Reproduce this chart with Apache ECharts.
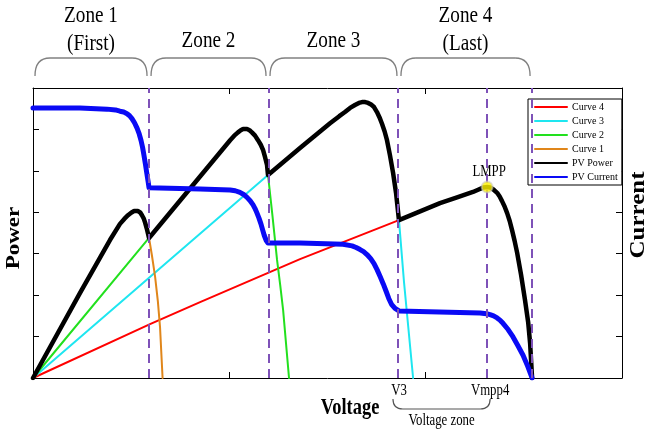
<!DOCTYPE html>
<html><head><meta charset="utf-8">
<script src="https://cdn.jsdelivr.net/npm/echarts@6/dist/echarts.min.js"></script>
<style>html,body{margin:0;padding:0;background:#fff}#c{width:646px;height:430px}</style>
</head><body><div id="c"></div>
<script>
// ---- data (x: voltage, y: power / current) ----
const curve1 = [[0,0],[0.239,2.05],[0.392,3.33],[0.443,3.72],[0.465,3.84],[0.484,3.93],[0.500,3.99],[0.515,4.03],[0.535,4.03],[0.547,3.99],[0.555,3.93],[0.564,3.85],[0.571,3.75],[0.581,3.58],[0.591,3.38],[0.606,2.95],[0.622,2.44],[0.636,1.85],[0.647,1.23],[0.660,0]];
const curve2 = [[0,0],[0.591,3.38],[1.004,5.74],[1.025,5.85],[1.044,5.93],[1.058,5.98],[1.070,6.01],[1.090,6.01],[1.103,5.98],[1.115,5.93],[1.131,5.85],[1.146,5.74],[1.160,5.63],[1.172,5.50],[1.182,5.33],[1.192,5.14],[1.197,4.90],[1.220,3.90],[1.243,2.85],[1.259,2.25],[1.274,1.64],[1.304,0]];
const curve3 = [[0,0],[1.197,4.90],[1.360,5.55],[1.513,6.15],[1.560,6.32],[1.589,6.42],[1.615,6.52],[1.640,6.59],[1.660,6.64],[1.676,6.66],[1.692,6.66],[1.707,6.64],[1.722,6.60],[1.737,6.54],[1.752,6.42],[1.765,6.29],[1.778,6.13],[1.791,5.95],[1.803,5.74],[1.818,5.38],[1.834,4.95],[1.849,4.47],[1.864,3.81],[1.890,2.30],[1.936,0]];
const curve4 = [[0,0],[0.596,1.30],[0.851,1.83],[1.360,2.87],[1.864,3.81],[2.073,4.22],[2.160,4.36],[2.241,4.49],[2.270,4.55],[2.295,4.60],[2.313,4.61],[2.328,4.60],[2.345,4.55],[2.364,4.47],[2.377,4.38],[2.389,4.27],[2.402,4.14],[2.415,3.98],[2.428,3.79],[2.440,3.57],[2.453,3.31],[2.466,3.02],[2.486,2.49],[2.506,1.88],[2.522,1.35],[2.532,0.84],[2.542,0]];
const pvPower = [[0,0],[0.239,2.05],[0.392,3.33],[0.443,3.72],[0.465,3.84],[0.484,3.93],[0.500,3.99],[0.515,4.03],[0.535,4.03],[0.547,3.99],[0.555,3.93],[0.564,3.85],[0.571,3.75],[0.581,3.58],[0.591,3.38],[1.004,5.74],[1.025,5.85],[1.044,5.93],[1.058,5.98],[1.070,6.01],[1.090,6.01],[1.103,5.98],[1.115,5.93],[1.131,5.85],[1.146,5.74],[1.160,5.63],[1.172,5.50],[1.182,5.33],[1.192,5.14],[1.197,4.90],[1.360,5.55],[1.513,6.15],[1.560,6.32],[1.589,6.42],[1.615,6.52],[1.640,6.59],[1.660,6.64],[1.676,6.66],[1.692,6.66],[1.707,6.64],[1.722,6.60],[1.737,6.54],[1.752,6.42],[1.765,6.29],[1.778,6.13],[1.791,5.95],[1.803,5.74],[1.818,5.38],[1.834,4.95],[1.849,4.47],[1.864,3.81],[2.073,4.22],[2.160,4.36],[2.241,4.49],[2.270,4.55],[2.295,4.60],[2.313,4.61],[2.328,4.60],[2.345,4.55],[2.364,4.47],[2.377,4.38],[2.389,4.27],[2.402,4.14],[2.415,3.98],[2.428,3.79],[2.440,3.57],[2.453,3.31],[2.466,3.02],[2.486,2.49],[2.506,1.88],[2.522,1.35],[2.532,0.84],[2.542,0]];
const pvCurrent = [[0,6.52],[0.239,6.52],[0.377,6.49],[0.420,6.47],[0.443,6.44],[0.462,6.42],[0.479,6.38],[0.492,6.33],[0.504,6.26],[0.517,6.16],[0.530,6.03],[0.541,5.89],[0.550,5.74],[0.558,5.57],[0.565,5.38],[0.573,5.15],[0.581,4.90],[0.587,4.72],[0.591,4.59],[0.851,4.56],[1.004,4.54],[1.030,4.52],[1.054,4.48],[1.073,4.43],[1.090,4.36],[1.106,4.28],[1.121,4.18],[1.131,4.09],[1.141,3.98],[1.151,3.86],[1.161,3.72],[1.170,3.57],[1.178,3.44],[1.188,3.32],[1.197,3.26],[1.360,3.26],[1.579,3.23],[1.625,3.19],[1.646,3.15],[1.666,3.10],[1.684,3.05],[1.701,2.98],[1.720,2.88],[1.737,2.76],[1.753,2.61],[1.768,2.45],[1.784,2.27],[1.798,2.10],[1.812,1.92],[1.826,1.78],[1.844,1.68],[1.864,1.62],[2.277,1.57],[2.310,1.55],[2.328,1.53],[2.346,1.50],[2.364,1.45],[2.380,1.39],[2.394,1.32],[2.420,1.17],[2.445,0.99],[2.470,0.78],[2.496,0.55],[2.520,0.28],[2.542,0]];
const dashedX = [0.591, 1.197, 1.864, 2.313, 2.542];
const zoneEdges = [0, 0.591, 1.197, 1.864, 2.542];
const zoneLabels = [['Zone 1','(First)'],['Zone 2'],['Zone 3'],['Zone 4','(Last)']];
const lmpp = [2.313, 4.61];
const v3 = 1.864, vmpp4 = 2.313;
const xTicks = [0, 1, 2, 3];
const yTicks = [0, 1, 2, 3, 4, 5, 6, 7];

const SERIF = 'Liberation Serif';
const chart = echarts.init(document.getElementById('c'), null, {renderer:'canvas'});
const axisCommon = {
  axisLine:{show:true,onZero:false,lineStyle:{color:'#000',width:1}},
  axisTick:{show:true,inside:true,length:6,lineStyle:{color:'#000',width:1}},
  axisLabel:{show:false}, splitLine:{show:false}
};
function lineSeries(name, data, color, width, yIdx) {
  return {name, type:'line', data, xAxisIndex:0, yAxisIndex:yIdx||0, showSymbol:false, symbol:'circle',
    smooth:false, lineStyle:{color, width, join:'round', cap:'round'}, itemStyle:{color}, animation:false, silent:true};
}
const option = {
  animation:false,
  backgroundColor:'#fff',
  grid:{left:33, right:24, top:88, bottom:52},
  xAxis:[
    Object.assign({type:'value', min:xTicks[0], max:xTicks[xTicks.length-1], interval:1, position:'bottom'}, axisCommon),
    Object.assign({type:'value', min:xTicks[0], max:xTicks[xTicks.length-1], interval:1, position:'top'}, axisCommon)
  ],
  yAxis:[
    Object.assign({type:'value', min:yTicks[0], max:yTicks[yTicks.length-1], interval:1, position:'left'}, axisCommon),
    Object.assign({type:'value', min:yTicks[0], max:yTicks[yTicks.length-1], interval:1, position:'right'}, axisCommon)
  ],
  legend:{
    data:['Curve 4','Curve 3','Curve 2','Curve 1','PV Power','PV Current'],
    orient:'vertical', left:528, top:99, itemWidth:32, itemHeight:8, itemGap:4,
    padding:[3,4,3,6], borderColor:'#000', borderWidth:1, backgroundColor:'#fff', borderRadius:0,
    textStyle:{fontFamily:SERIF, fontSize:10, color:'#000'},
    itemStyle:{opacity:0}, selectedMode:false
  },
  series:[
    lineSeries('Curve 4', curve4, '#ff0000', 2),
    lineSeries('Curve 3', curve3, '#1ee6f0', 2),
    lineSeries('Curve 2', curve2, '#22e01e', 2),
    lineSeries('Curve 1', curve1, '#e0861a', 2),
    lineSeries('PV Power', pvPower, '#000000', 4.5),
    lineSeries('PV Current', pvCurrent, '#0a0af5', 5, 1),
    {type:'line', name:'dashes', data:[], xAxisIndex:0, yAxisIndex:0, silent:true, z:5,
      markLine:{silent:true, symbol:['none','none'], animation:false, label:{show:false},
        lineStyle:{color:'#7e52b8', width:2, type:[9,6]},
        data: dashedX.map(v=>({xAxis:v}))}},
    {type:'scatter', name:'LMPP', data:[lmpp], symbolSize:11, z:6, silent:true,
      itemStyle:{color:'#fff200', borderColor:'rgba(200,200,200,0.7)', borderWidth:2}}
  ]
};
chart.setOption(option);

const px = v => chart.convertToPixel({xAxisIndex:0}, v);
const py = v => chart.convertToPixel({yAxisIndex:0}, v);
const g = [];
function txt(x, y, text, size, opts) {
  opts = opts || {};
  g.push({type:'text', x, y, rotation:opts.rot||0, scaleX:opts.sx||1, scaleY:opts.sy||1, z:100,
    style:{text, fill:'#000', font:(opts.bold?'bold ':'')+size+'px "'+SERIF+'"',
      textAlign:'center', textVerticalAlign:'middle', align:'center', verticalAlign:'middle'}});
}
function brace(a, b, yEnd, yFlat, r, color, lw) {
  const st = {stroke:color, lineWidth:lw, fill:null};
  g.push({type:'bezierCurve', z:100, shape:{x1:a, y1:yEnd, x2:a+r, y2:yFlat, cpx1:a, cpy1:yFlat}, style:st});
  g.push({type:'line', z:100, shape:{x1:a+r, y1:yFlat, x2:b-r, y2:yFlat}, style:st});
  g.push({type:'bezierCurve', z:100, shape:{x1:b-r, y1:yFlat, x2:b, y2:yEnd, cpx1:b, cpy1:yFlat}, style:st});
}
// zone braces + labels
for (let i=0;i<4;i++){
  const a = px(zoneEdges[i])+2, b = px(zoneEdges[i+1])-2, m=(a+b)/2;
  brace(a, b, 76, 58, 15, '#808080', 1.3);
  const L = zoneLabels[i];
  if (L.length===2){ txt(m,16,L[0],24,{sx:0.8}); txt(m,44,L[1],24,{sx:0.8}); }
  else txt(m,41,L[0],24,{sx:0.8});
}
// voltage zone brace
{
  const a = px(v3)-6, b = px(vmpp4)+3;
  brace(a, b, 399, 409, 10, '#555', 1.2);
  txt((a+b)/2, 421, 'Voltage zone', 16, {sx:0.8});
  txt(px(v3), 391, 'V3', 16, {sx:0.8});
  txt(px(vmpp4)+3, 391, 'Vmpp4', 16, {sx:0.8});
}
txt(px(lmpp[0])+2, py(lmpp[1])-15, 'LMPP', 16, {sx:0.8});
txt(350, 408, 'Voltage', 23, {sx:0.8, bold:true});
txt(14, 238, 'Power', 23, {sy:0.8, bold:true, rot:Math.PI/2});
txt(639, 215, 'Current', 25, {sy:0.8, bold:true, rot:Math.PI/2});
chart.setOption({graphic:g});
</script></body></html>
